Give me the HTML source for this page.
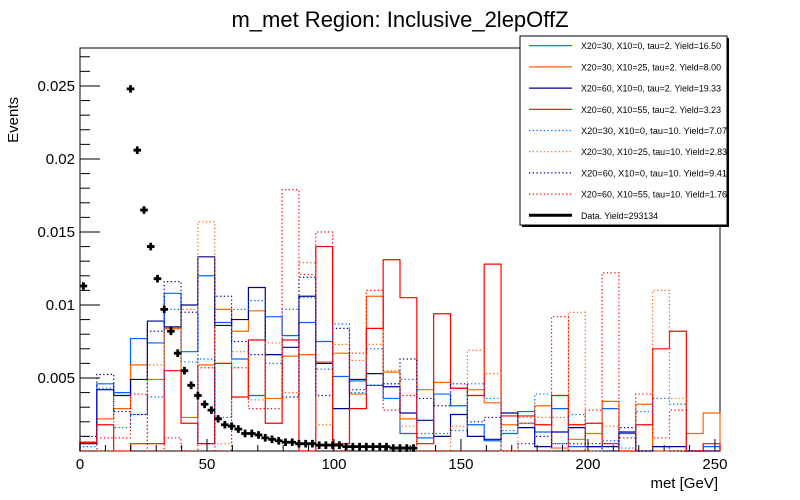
<!DOCTYPE html>
<html><head><meta charset="utf-8"><style>
html,body{margin:0;padding:0;background:#fff;}
svg{display:block;font-family:"Liberation Sans",Arial,sans-serif;}
</style></head><body>
<svg id="chart" width="800" height="500" viewBox="0 0 800 500" xmlns="http://www.w3.org/2000/svg">
<rect width="800" height="500" fill="#fff"/>
<text x="400" y="27" font-size="22" text-anchor="middle">m_met Region: Inclusive_2lepOffZ</text>
<text x="0" y="0" font-size="15" text-anchor="end" transform="translate(18,97) rotate(-90)">Events</text>
<text x="718" y="488" font-size="15" text-anchor="end">met [GeV]</text>
<g id="plot"></g>
<g id="legend"></g>
</svg>
<script>
// values in units of 1e-3 events
const lightBlueTau2 = [0.6,4.6,4.0,7.7,7.4,10.8,6.8,12.0,8.8,6.3,3.8,9.2,7.9,8.8,7.5,5.1,4.8,4.5,3.6,1.2,0.9,3.9,3.1,1.8,0.7,1.2,2.7,1.3,2.9,0.3,0.3,2.9,1.2,0,0,0,0,0.3];
const orangeTau2 = [0.6,2.2,2.9,5.9,4.9,8.4,2.3,5.9,9.7,8.2,9.6,3.6,6.5,6.6,6.1,6.7,3.9,10.6,5.4,2.2,4.2,4.7,4.3,4.2,3.3,1.8,1.9,3.1,0.2,0.8,1.2,3.4,0,3.2,0,0,1.2,2.6];
const navyTau2 = [0.5,4.2,3.8,4.9,8.9,8.5,10.0,13.3,8.6,9.0,11.2,6.6,7.1,10.6,6.0,2.9,4.9,5.3,4.4,2.6,2.1,1.0,2.5,1.0,0.8,2.6,1.6,0.3,1.3,1.6,0.3,0.3,1.3,0,0.3,0.3,0,0];
const redTau2 = [0.6,1.8,0,0.5,0.5,5.5,1.9,0.5,6.0,3.7,7.6,1.9,7.6,0,14.0,0.5,2.9,8.4,13.1,10.5,0.5,9.4,4.3,3.8,12.8,2.4,2.4,1.8,3.8,1.8,1.9,0.5,0,1.8,7.0,8.2,0,0.5];
const lightBlueTau10 = [0.3,4.3,1.6,2.5,3.7,9.7,6.1,6.3,2.3,9.7,10.3,6.0,9.7,10.5,5.6,8.7,4.0,7.0,4.6,4.9,1.2,1.2,1.4,4.6,3.6,1.4,1.9,3.9,0.5,2.5,0,0.7,0.2,2.7,3.6,3.2,0,0];
const orangeTau10 = [0,0,0,0.5,5.9,8.3,9.7,15.7,0.5,6.8,3.5,7.4,4.0,12.9,1.8,7.3,6.2,7.3,5.5,1.7,0,0,1.7,6.9,5.3,0,2.3,2.3,2.3,9.5,0,1.7,0,0,11.0,3.6,0,0];
const navyTau10 = [1.0,5.25,2.7,2.5,8.2,11.6,9.5,0.5,10.6,7.5,6.6,6.6,3.7,11.9,3.8,8.4,4.2,4.5,4.6,6.3,3.6,3.1,4.6,2.0,2.3,0,0.5,1.0,0.5,0.5,0.5,0,1.6,0,0.3,0,0,0];
const redTau10 = [0,0.9,0.9,3.9,0,0.9,0,5.7,0,5.7,2.9,2.9,17.9,12.1,15.0,0,6.7,11.0,2.8,3.8,0,0,0,0,0,0,0,0,9.2,0,2.8,12.2,0.9,3.9,0.9,2.8,0,0];
const dataValues = [11.3,null,null,null,null,null,null,24.8,20.6,16.5,14.0,11.8,9.7,8.2,6.7,5.5,4.5,3.8,3.2,2.8,2.2,1.8,1.7,1.5,1.2,1.2,1.1,0.9,0.8,0.7,0.6,0.6,0.5,0.5,0.5,0.4,0.4,0.4,0.4,0.3,0.3,0.3,0.3,0.3,0.3,0.3,0.2,0.2,0.2,0.2];
const legendLabels = ["X20=30, X10=0, tau=2. Yield=16.50","X20=30, X10=25, tau=2. Yield=8.00","X20=60, X10=0, tau=2. Yield=19.33","X20=60, X10=55, tau=2. Yield=3.23","X20=30, X10=0, tau=10. Yield=7.07","X20=30, X10=25, tau=10. Yield=2.83","X20=60, X10=0, tau=10. Yield=9.41","X20=60, X10=55, tau=10. Yield=1.76","Data. Yield=293134"];
const xTickLabels = [0,50,100,150,200,250];
const yTickLabels = [0.005,0.01,0.015,0.02,0.025];

const NS="http://www.w3.org/2000/svg";
const X0=80,X1=720,Y0=451,Y1=48,XMAX=252,YMAX=0.0276;
const NB=38, BW=XMAX/NB, FBW=BW/2.5;
const sx=v=>X0+v/XMAX*(X1-X0);
const sy=v=>Y0-(v*1e-3)/YMAX*(Y0-Y1);
const syAbs=v=>Y0-v/YMAX*(Y0-Y1);
const plot=document.getElementById('plot');
function mk(tag,attrs,parent){const e=document.createElementNS(NS,tag);for(const k in attrs)e.setAttribute(k,attrs[k]);(parent||plot).appendChild(e);return e;}

const frame=mk('path',{d:`M${X0},${Y1}L${X1},${Y1}L${X1},${Y0}L${X0},${Y0}Z`,fill:'none',stroke:'#000','stroke-width':1});



const series=[
 {v:lightBlueTau2,c:'#0066ff',d:null,n:'hist-x20-30-x10-0-tau2'},
 {v:orangeTau2,c:'#ff6600',d:null,n:'hist-x20-30-x10-25-tau2'},
 {v:navyTau2,c:'#000099',d:null,n:'hist-x20-60-x10-0-tau2'},
 {v:redTau2,c:'#ff0000',d:null,n:'hist-x20-60-x10-55-tau2'},
 {v:lightBlueTau10,c:'#0066ff',d:'1.3 2.4',n:'hist-x20-30-x10-0-tau10'},
 {v:orangeTau10,c:'#ff6600',d:'1.3 2.4',n:'hist-x20-30-x10-25-tau10'},
 {v:navyTau10,c:'#000099',d:'1.3 2.4',n:'hist-x20-60-x10-0-tau10'},
 {v:redTau10,c:'#ff0000',d:'1.3 2.4',n:'hist-x20-60-x10-55-tau10'}
];
series.forEach(s=>{
  let d=`M${sx(0)},${Y0}`;
  s.v.forEach((val,i)=>{d+=`L${sx(i*BW)},${sy(val)}L${sx((i+1)*BW)},${sy(val)}`;});
  d+=`L${sx(s.v.length*BW)},${Y0}`;
  const p=mk('path',{d:d,fill:'none',stroke:s.c,'stroke-width':1.2});
  if(s.d)p.setAttribute('stroke-dasharray',s.d);
  
  
});

dataValues.forEach((val,i)=>{
  if(val===null)return;
  const cx=sx((i+0.5)*FBW), cy=sy(val);
  const m=mk('path',{d:`M${cx-3.8},${cy}H${cx+3.8}M${cx},${cy-3.8}V${cy+3.8}`,stroke:'#000','stroke-width':2.8,fill:'none'});
  
  
});

for(let k=1;k*0.001<=YMAX;k++){
  const v=k*0.001, y=syAbs(v), major=k%5===0;
  mk('line',{x1:X0,x2:X0+(major?20:10),y1:y,y2:y,stroke:'#000','stroke-width':1});
}
yTickLabels.forEach(v=>{
  const t=mk('text',{x:75,y:syAbs(v)+5,'font-size':15,'text-anchor':'end'});
  t.textContent=String(v);
  
  
});
for(let k=0;k*10<=XMAX;k++){
  const x=sx(k*10), major=k%5===0;
  mk('line',{x1:x,x2:x,y1:Y0,y2:Y0-(major?12:6),stroke:'#000','stroke-width':1});
}
xTickLabels.forEach(v=>{
  const t=mk('text',{x:sx(v),y:469,'font-size':15,'text-anchor':'middle'});
  t.textContent=String(v);
  
  
});

const lg=document.getElementById('legend');
mk('rect',{x:522,y:38,width:207,height:189,fill:'#000'},lg);
mk('rect',{x:520,y:36,width:207,height:189,fill:'#fff',stroke:'#000','stroke-width':1},lg);
const legColors=['#0066ff','#ff6600','#000099','#ff0000','#0066ff','#ff6600','#000099','#ff0000','#000'];
legendLabels.forEach((lab,i)=>{
  const y=45.7+i*21.2;
  const g=mk('g',{},lg);
  
  
  const l=mk('line',{x1:529,x2:572,y1:y,y2:y,stroke:legColors[i],'stroke-width':i===8?3:1.2},g);
  if(i>=4&&i<8)l.setAttribute('stroke-dasharray','1.3 2.4');
  const t=mk('text',{x:581,y:y+3.5,'font-size':8.8},g);
  t.textContent=lab;
  if(i<8){t.setAttribute('textLength',i>=4?146:140);t.setAttribute('lengthAdjust','spacingAndGlyphs');}
});
</script>
</body></html>
